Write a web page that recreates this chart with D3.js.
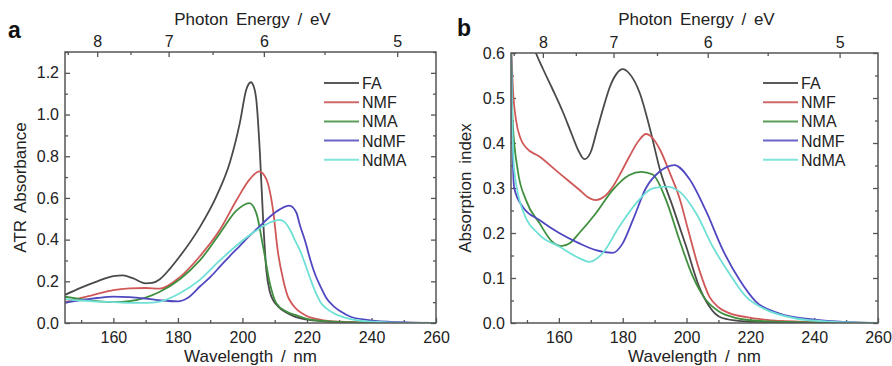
<!DOCTYPE html>
<html>
<head>
<meta charset="utf-8">
<script src="https://cdn.jsdelivr.net/npm/d3@7"></script>
<style>
  body { margin: 0; background: #fff; }
  svg { display: block; font-family: "Liberation Sans", Arial, sans-serif; }
  .tick text { font-size: 16px; fill: #222; }
  .tick line { stroke: #555; stroke-width: 1.3; }
  .title { font-size: 17px; fill: #222; word-spacing: 3px; }
</style>
</head>
<body>
<svg width="892" height="366"></svg>
<script>
const series = ['FA', 'NMF', 'NMA', 'NdMF', 'NdMA']
const colors = ['#4a4a4a', '#d05858', '#3f8f3f', '#5048c0', '#6fe0d6']
const legendColors = ['#5a5a5a', '#d06a6a', '#5a9e5a', '#6a64c8', '#80e4da']

// panel a: ATR absorbance, [wavelength nm, value]
const faA = [[145, 0.135], [150, 0.17], [155, 0.2], [160, 0.225], [163, 0.228], [166, 0.215], [170, 0.19], [172, 0.192],
  [174.4, 0.21], [177.5, 0.26], [180.6, 0.32], [186.8, 0.46], [192, 0.61], [196.1, 0.77], [199.2, 0.96], [201.2, 1.12],
  [202.6, 1.155], [203.6, 1.13], [204.3, 1.07], [205.4, 0.82], [206.4, 0.5], [207.4, 0.255], [208.5, 0.15],
  [209.5, 0.11], [211, 0.08], [213.6, 0.05], [216, 0.032], [219.8, 0.017], [225, 0.008], [235, 0.002], [260, 0]]
const nmfA = [[145, 0.1], [150, 0.12], [155, 0.14], [160, 0.158], [165, 0.166], [170, 0.168], [174.4, 0.165],
  [180.6, 0.22], [186.8, 0.32], [193, 0.447], [198.2, 0.59], [202.3, 0.69], [205.2, 0.727], [207.4, 0.69],
  [209.5, 0.54], [211, 0.34], [212.6, 0.21], [214, 0.13], [215.7, 0.085], [219.8, 0.035], [224, 0.016],
  [230, 0.006], [240, 0.002], [260, 0]]
const nmaA = [[145, 0.126], [150, 0.115], [155, 0.105], [160, 0.1], [165, 0.105], [170, 0.122], [174.4, 0.15],
  [180.6, 0.21], [186.8, 0.3], [193, 0.43], [198.2, 0.54], [202.1, 0.575], [204.3, 0.527], [206.4, 0.367],
  [208.5, 0.19], [210.5, 0.095], [213.6, 0.055], [217, 0.035], [220, 0.02], [225, 0.01], [230, 0.005], [240, 0.001], [260, 0]]
const ndmfA = [[145, 0.098], [150, 0.11], [155, 0.12], [160, 0.127], [165, 0.124], [170, 0.117], [175, 0.108],
  [180, 0.104], [183, 0.12], [186.8, 0.175], [190, 0.22], [193, 0.27], [196, 0.32], [199.2, 0.37], [202, 0.415],
  [205.4, 0.465], [208.5, 0.51], [211.6, 0.545], [214.5, 0.563], [216.7, 0.53], [217.8, 0.47], [219.5, 0.39],
  [221.1, 0.3], [222.6, 0.23], [224.2, 0.175], [226, 0.12], [228.3, 0.08], [230.5, 0.055], [233.5, 0.03],
  [238.6, 0.015], [245, 0.006], [252, 0.002], [260, 0]]
const ndmaA = [[145, 0.115], [150, 0.108], [155, 0.103], [160, 0.1], [165, 0.097], [170, 0.097], [174.4, 0.103],
  [180.6, 0.143], [186.8, 0.207], [193, 0.3], [199.2, 0.385], [205.4, 0.455], [209, 0.485], [211.4, 0.495],
  [213, 0.485], [215, 0.44], [216.5, 0.39], [217.8, 0.35], [219.5, 0.28], [221.1, 0.21], [222.6, 0.15],
  [224.2, 0.1], [226, 0.07], [228.3, 0.047], [232, 0.025], [236, 0.012], [245, 0.003], [260, 0]]

// panel b: absorption index
const faB = [[145, 0.78], [150, 0.66], [152.8, 0.6], [155, 0.565], [158, 0.52], [161.2, 0.47], [164, 0.42], [166, 0.385],
  [168, 0.364], [170, 0.38], [172, 0.43], [174, 0.48], [176, 0.525], [178, 0.553], [180, 0.564], [182, 0.555],
  [185.4, 0.51], [188.6, 0.43], [191.7, 0.34], [195.7, 0.258], [199.9, 0.17], [204, 0.08], [207.2, 0.036],
  [210.3, 0.014], [215, 0.006], [225, 0.002], [260, 0]]
const nmfB = [[145, 0.62], [145.6, 0.52], [146.6, 0.45], [148, 0.41], [149.7, 0.39], [153.9, 0.37], [160.1, 0.333],
  [166.4, 0.296], [169, 0.28], [171.6, 0.273], [174, 0.28], [176.9, 0.303], [179.5, 0.335], [182.1, 0.37], [185, 0.405],
  [187.3, 0.42], [189.5, 0.41], [191.7, 0.385], [194.8, 0.333], [198, 0.273], [200.5, 0.207], [204, 0.118],
  [207.2, 0.058], [210, 0.035], [213.4, 0.022], [218.7, 0.013], [225, 0.007], [235, 0.003], [250, 0.001], [260, 0]]
const nmaB = [[145, 0.62], [145.5, 0.45], [147.1, 0.34], [149.7, 0.273], [153.9, 0.222], [158, 0.18], [160.7, 0.171],
  [163.5, 0.178], [166.4, 0.2], [171.6, 0.244], [176.9, 0.296], [182.1, 0.329], [185.8, 0.336], [189.4, 0.33],
  [193.6, 0.273], [197.8, 0.184], [202, 0.103], [206.1, 0.051], [210.3, 0.025], [215, 0.012], [222, 0.005], [235, 0.002], [260, 0]]
const ndmfB = [[145, 0.62], [145.4, 0.42], [146, 0.3], [148.7, 0.258], [153.9, 0.229], [160.1, 0.2], [166.4, 0.177],
  [171.6, 0.162], [176.9, 0.156], [180, 0.177], [183.2, 0.229], [187.3, 0.3], [191.5, 0.336], [196.2, 0.351],
  [200.9, 0.32], [206.1, 0.249], [211.4, 0.162], [216.6, 0.096], [221.8, 0.047], [229.1, 0.021], [239.6, 0.008],
  [250, 0.002], [260, 0]]
const ndmaB = [[145, 0.62], [145.4, 0.45], [146, 0.34], [148.7, 0.25], [153.9, 0.196], [160.1, 0.17], [166.4, 0.144],
  [169.5, 0.136], [173.7, 0.155], [178.9, 0.214], [184.2, 0.266], [189.4, 0.299], [193.6, 0.303], [197.8, 0.292],
  [203, 0.244], [208.2, 0.17], [213.4, 0.11], [218.7, 0.058], [223.9, 0.033], [234.3, 0.01], [245, 0.003], [260, 0]]

const nmTicks = [160, 180, 200, 220, 240, 260]
const nmMinor = [150, 170, 190, 210, 230, 250]
const eTicks = [8, 7, 6, 5]
const eMinor = [8.5, 7.5, 6.5, 5.5]
const yTicksA = [0, 0.2, 0.4, 0.6, 0.8, 1.0, 1.2]
const yMinorA = [0.1, 0.3, 0.5, 0.7, 0.9, 1.1, 1.3]
const yTicksB = [0, 0.1, 0.2, 0.3, 0.4, 0.5, 0.6]
const yMinorB = [0.05, 0.15, 0.25, 0.35, 0.45, 0.55]

const svg = d3.select('svg')

function drawPanel (p) {
  const {left, top, right, bottom} = p
  const x = d3.scaleLinear().domain([145, 260]).range([left, right])
  const y = d3.scaleLinear().domain(p.yDomain).range([bottom, top])
  const g = svg.append('g')

  const clipId = 'clip-' + p.letter
  svg.append('clipPath').attr('id', clipId).append('rect')
    .attr('x', left).attr('y', top).attr('width', right - left).attr('height', bottom - top)

  // ticks, all pointing inward
  const axes = [
    [d3.axisBottom(x).tickValues(nmTicks).tickSize(-5).tickPadding(9), bottom, 'x'],
    [d3.axisBottom(x).tickValues(nmMinor).tickSize(-3).tickFormat(''), bottom, 'x'],
    [d3.axisTop(x).tickValues(eTicks.map(e => 1239.84 / e)).tickSize(-5).tickPadding(5).tickFormat((d, i) => eTicks[i]), top, 'x'],
    [d3.axisTop(x).tickValues(eMinor.map(e => 1239.84 / e)).tickSize(-3).tickFormat(''), top, 'x'],
    [d3.axisLeft(y).tickValues(p.yTicks).tickSize(-5).tickPadding(6).tickFormat(p.fmt), left, 'y'],
    [d3.axisLeft(y).tickValues(p.yMinor).tickSize(-3).tickFormat(''), left, 'y'],
    [d3.axisRight(y).tickValues(p.yTicks).tickSize(-5).tickFormat(''), right, 'y'],
    [d3.axisRight(y).tickValues(p.yMinor).tickSize(-3).tickFormat(''), right, 'y']
  ]
  axes.forEach(([ax, pos, kind]) => {
    const a = g.append('g')
      .attr('transform', kind === 'x' ? `translate(0,${pos})` : `translate(${pos},0)`)
      .call(ax)
    a.select('.domain').remove()
    a.selectAll('.tick text').attr('font-size', null)
  })

  const line = d3.line().x(d => x(d[0])).y(d => y(d[1])).curve(d3.curveMonotoneX)
  g.append('g').attr('clip-path', `url(#${clipId})`)
    .selectAll('path').data(p.data).enter().append('path')
    .attr('d', line)
    .attr('fill', 'none')
    .attr('stroke', (d, i) => colors[i])
    .attr('stroke-width', 1.8)

  g.append('rect')
    .attr('x', left).attr('y', top).attr('width', right - left).attr('height', bottom - top)
    .attr('fill', 'none').attr('stroke', '#555').attr('stroke-width', 1.5)

  // legend
  const lg = g.append('g').selectAll('g').data(series).enter().append('g')
    .attr('transform', (d, i) => `translate(${p.legendX},${p.legendY + i * 19.2})`)
  lg.append('line').attr('x1', 0).attr('x2', 35)
    .attr('stroke', (d, i) => legendColors[i]).attr('stroke-width', 2)
  lg.append('text').attr('x', 38).attr('y', 6).attr('font-size', 16).attr('fill', '#222').text(d => d)

  // titles
  const cx = (left + right) / 2
  g.append('text').attr('class', 'title').attr('x', cx).attr('y', 362).attr('text-anchor', 'middle')
    .text('Wavelength / nm')
  g.append('text').attr('class', 'title').attr('x', cx + 2).attr('y', 25).attr('text-anchor', 'middle')
    .text('Photon Energy / eV')
  g.append('text').attr('class', 'title')
    .attr('transform', `translate(${p.yTitleX},${(top + bottom) / 2}) rotate(-90)`)
    .attr('text-anchor', 'middle').text(p.yTitle)
  g.append('text').attr('x', p.letterX).attr('y', p.letterY)
    .attr('font-size', 23).attr('font-weight', 'bold').attr('fill', '#111').text(p.letter)
}

drawPanel({
  letter: 'a', letterX: 8, letterY: 38,
  left: 65, top: 52, right: 436, bottom: 323,
  yDomain: [0, 1.3], yTicks: yTicksA, yMinor: yMinorA, fmt: d3.format('.1f'),
  yTitle: 'ATR Absorbance', yTitleX: 26,
  legendX: 324, legendY: 83,
  data: [faA, nmfA, nmaA, ndmfA, ndmaA]
})

drawPanel({
  letter: 'b', letterX: 457, letterY: 36,
  left: 511, top: 53, right: 878, bottom: 323,
  yDomain: [0, 0.6], yTicks: yTicksB, yMinor: yMinorB, fmt: d3.format('.1f'),
  yTitle: 'Absorption index', yTitleX: 471,
  legendX: 763, legendY: 83,
  data: [faB, nmfB, nmaB, ndmfB, ndmaB]
})
</script>
</body>
</html>
